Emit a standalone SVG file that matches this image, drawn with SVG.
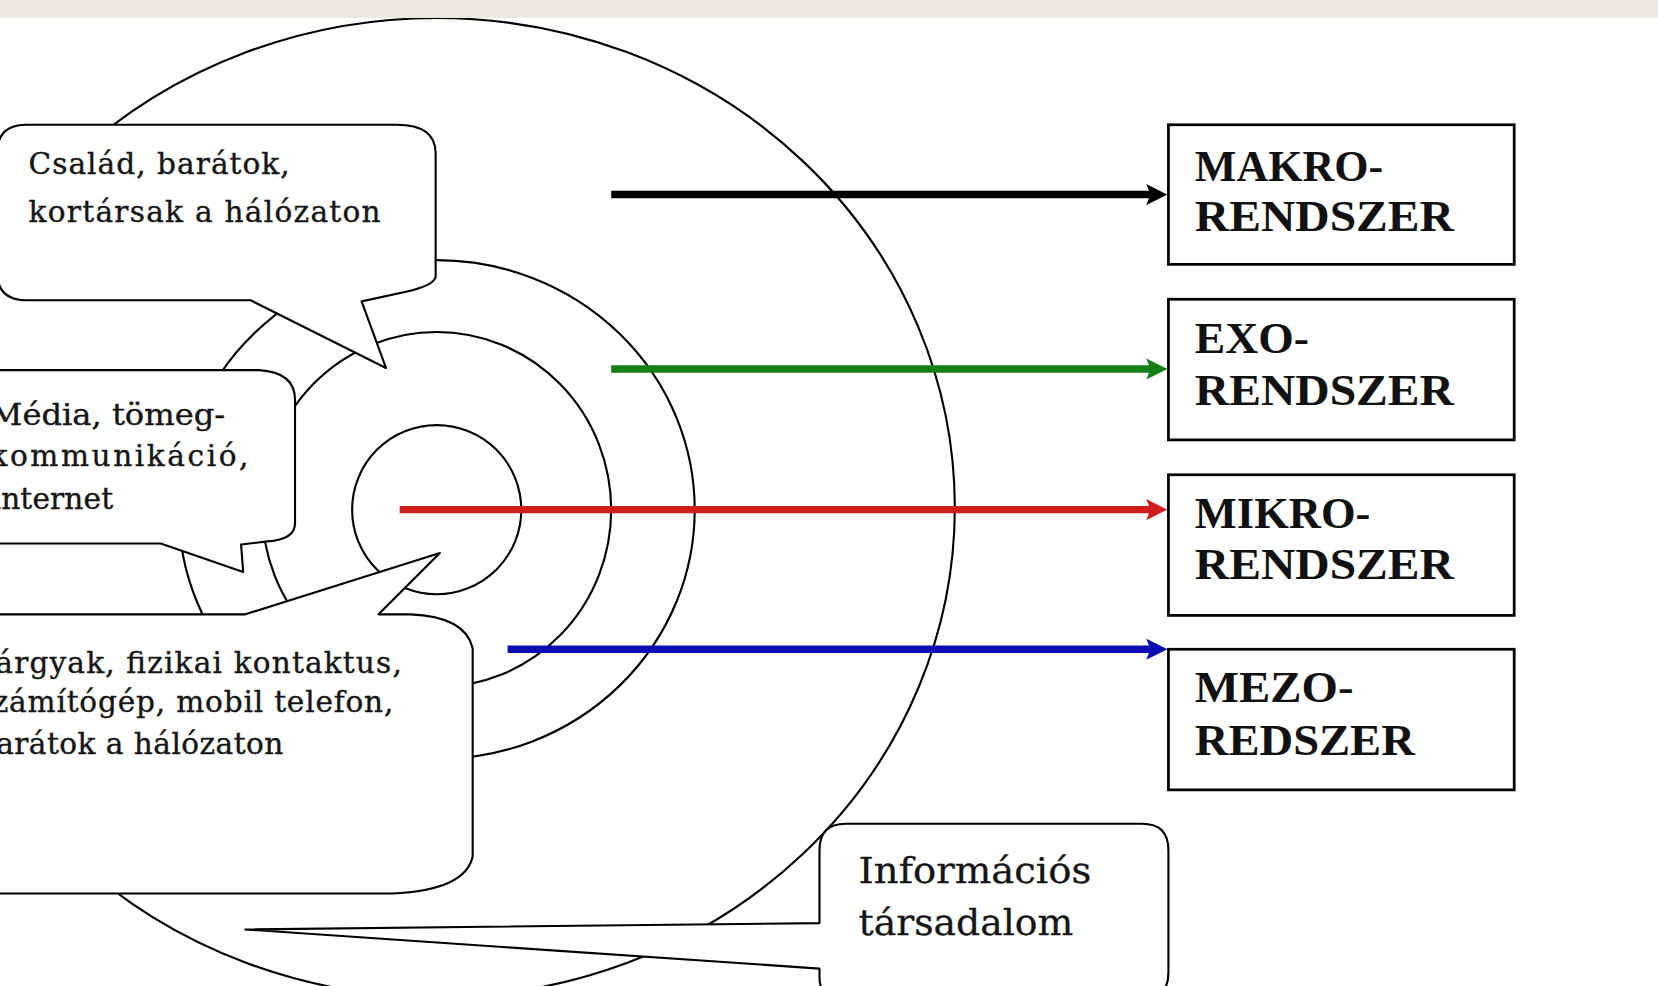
<svg xmlns="http://www.w3.org/2000/svg" width="1658" height="986" viewBox="0 0 1658 986">
<style>
.ring{fill:none;stroke:#000;stroke-width:2}
.co{fill:#fff;stroke:#000;stroke-width:2;stroke-linejoin:round}
.bx{fill:#fff;stroke:#000;stroke-width:2.6}
.ct{font-family:"DejaVu Serif","Liberation Serif",serif;font-size:28px;fill:#151515;stroke:#151515;stroke-width:0.35}
.ci{font-family:"DejaVu Serif","Liberation Serif",serif;font-size:34px;fill:#151515;stroke:#151515;stroke-width:0.3}
.bt{font-family:"Liberation Serif","DejaVu Serif",serif;font-weight:bold;font-size:42px;fill:#111}
.ar{fill:none;stroke-width:7}
</style>
<defs>
<marker id="hK" viewBox="0 0 20 20" refX="6" refY="10" markerWidth="20" markerHeight="20" markerUnits="userSpaceOnUse" orient="auto"><path d="M0,0 L20,10 L0,20 L4,10 Z" fill="#000"/></marker>
<marker id="hG" viewBox="0 0 20 20" refX="6" refY="10" markerWidth="20" markerHeight="20" markerUnits="userSpaceOnUse" orient="auto"><path d="M0,0 L20,10 L0,20 L4,10 Z" fill="#157D15"/></marker>
<marker id="hR" viewBox="0 0 20 20" refX="6" refY="10" markerWidth="20" markerHeight="20" markerUnits="userSpaceOnUse" orient="auto"><path d="M0,0 L20,10 L0,20 L4,10 Z" fill="#D01E1E"/></marker>
<marker id="hB" viewBox="0 0 20 20" refX="6" refY="10" markerWidth="20" markerHeight="20" markerUnits="userSpaceOnUse" orient="auto"><path d="M0,0 L20,10 L0,20 L4,10 Z" fill="#0C0CB4"/></marker>
</defs>
<rect x="0" y="0" width="1658" height="986" fill="#fff"/>
<g transform="scale(1.0574)">
<g id="rings">
<ellipse class="ring" cx="413" cy="480" rx="490" ry="463"/>
<ellipse class="ring" cx="413" cy="482" rx="244" ry="236"/>
<ellipse class="ring" cx="413" cy="482" rx="165" ry="168"/>
<ellipse class="ring" cx="413" cy="482" rx="80" ry="80"/>
</g>
<g id="callout-csalad">
<path class="co" d="M25,118 H375 Q412,118 412,145 V262 Q410,270 384,276 L342,285 L365,348 L237,284 H25 Q-3,284 -3,256 V146 Q-3,118 25,118 Z"/>
<text class="ct" x="27" y="165" textLength="247" lengthAdjust="spacing">Család, barátok,</text>
<text class="ct" x="27" y="210" textLength="333" lengthAdjust="spacing">kortársak a hálózaton</text>
</g>
<g id="callout-media">
<path class="co" d="M-5,350 H245 Q279,352 279,378 V495 Q279,510 253,512 L228,515 L230,541 L152,514 H-5 Z"/>
<text class="ct" x="-10" y="402" textLength="223" lengthAdjust="spacingAndGlyphs">Média, tömeg-</text>
<text class="ct" x="-10" y="441" textLength="245" lengthAdjust="spacing">kommunikáció,</text>
<text class="ct" x="-8" y="481" textLength="115" lengthAdjust="spacing">internet</text>
</g>
<g id="callout-targyak">
<path class="co" d="M-5,581 H232 L416,523 L358,581 H388 Q440,583 447,613 V810 Q440,842 371,845 H-5 Z"/>
<text class="ct" x="-22" y="636" textLength="402" lengthAdjust="spacing">Tárgyak, fizikai kontaktus,</text>
<text class="ct" x="-22" y="673" textLength="394" lengthAdjust="spacing">számítógép, mobil telefon,</text>
<text class="ct" x="-22" y="713" textLength="290" lengthAdjust="spacing">barátok a hálózaton</text>
</g>
<g id="callout-info">
<path class="co" d="M800,779 H1080 Q1105,779 1105,804 V920 Q1105,945 1080,945 H800 Q775,945 775,925 V916 L232,879 L775,873 V804 Q775,779 800,779 Z"/>
<text class="ci" x="812" y="835" textLength="220" lengthAdjust="spacingAndGlyphs">Információs</text>
<text class="ci" x="812" y="884" textLength="203" lengthAdjust="spacingAndGlyphs">társadalom</text>
</g>
<g id="node-makro">
<rect class="bx" x="1105" y="118" width="327" height="132"/>
<text class="bt" x="1130" y="171" textLength="178" lengthAdjust="spacingAndGlyphs">MAKRO-</text>
<text class="bt" x="1130" y="218" textLength="245" lengthAdjust="spacingAndGlyphs">RENDSZER</text>
</g>
<g id="node-exo">
<rect class="bx" x="1105" y="283" width="327" height="133"/>
<text class="bt" x="1130" y="334" textLength="108" lengthAdjust="spacingAndGlyphs">EXO-</text>
<text class="bt" x="1130" y="383" textLength="245" lengthAdjust="spacingAndGlyphs">RENDSZER</text>
</g>
<g id="node-mikro">
<rect class="bx" x="1105" y="449" width="327" height="133"/>
<text class="bt" x="1130" y="499" textLength="166" lengthAdjust="spacingAndGlyphs">MIKRO-</text>
<text class="bt" x="1130" y="548" textLength="245" lengthAdjust="spacingAndGlyphs">RENDSZER</text>
</g>
<g id="node-mezo">
<rect class="bx" x="1105" y="614" width="327" height="133"/>
<text class="bt" x="1130" y="664" textLength="150" lengthAdjust="spacingAndGlyphs">MEZO-</text>
<text class="bt" x="1130" y="714" textLength="208" lengthAdjust="spacingAndGlyphs">REDSZER</text>
</g>
<g id="connectors">
<line class="ar" x1="578" y1="184" x2="1090" y2="184" stroke="#000" marker-end="url(#hK)"/>
<line class="ar" x1="578" y1="349" x2="1090" y2="349" stroke="#157D15" marker-end="url(#hG)"/>
<line class="ar" x1="378" y1="482" x2="1090" y2="482" stroke="#D01E1E" marker-end="url(#hR)"/>
<line class="ar" x1="480" y1="614" x2="1090" y2="614" stroke="#0C0CB4" marker-end="url(#hB)"/>
</g>
<rect id="band" x="0" y="0" width="1570" height="17" fill="#ECEAE0"/>
</g>
</svg>
